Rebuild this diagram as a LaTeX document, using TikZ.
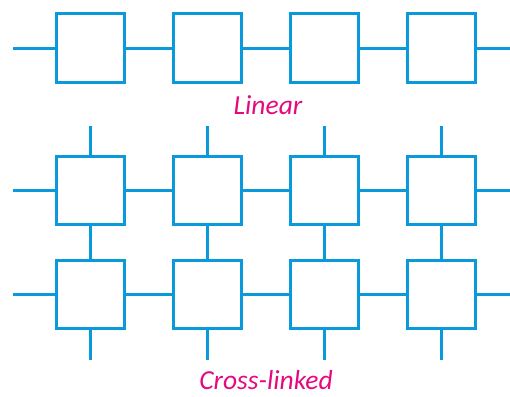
\documentclass[tikz,border=0pt]{standalone}
\usepackage{fontspec}
\setmainfont{Carlito}
\definecolor{linkblue}{HTML}{0A9ADB}
\definecolor{labelpink}{HTML}{E5097F}
\begin{document}
\begin{tikzpicture}[x=1pt,y=-1pt,
  unit/.style={draw=linkblue,line width=3pt,minimum size=68pt,inner sep=0pt,fill=white},
  link/.style={draw=linkblue,line width=3pt},
  caption/.style={text=labelpink,inner sep=0pt,text depth=0pt,font=\fontsize{27.5}{30}\selectfont\itshape}]
\useasboundingbox (0,0) rectangle (510,396);
\foreach \i/\x in {1/90.5,2/207.5,3/324.5,4/441.5}{
  \node[unit] (a\i) at (\x,48) {};
  \node[unit] (b\i) at (\x,190.5) {};
  \node[unit] (c\i) at (\x,294) {};
  \coordinate (bt\i) at (\x,126);
  \coordinate (cb\i) at (\x,360);
}
\coordinate (aL) at (13,48); \coordinate (aR) at (510,48);
\coordinate (bL) at (13,190.5); \coordinate (bR) at (510,190.5);
\coordinate (cL) at (13,294); \coordinate (cR) at (510,294);
\foreach \r in {a,b,c}{
  \draw[link] (\r L) -- (\r1.west);
  \draw[link] (\r1.east) -- (\r2.west);
  \draw[link] (\r2.east) -- (\r3.west);
  \draw[link] (\r3.east) -- (\r4.west);
  \draw[link] (\r4.east) -- (\r R);
}
\foreach \i in {1,2,3,4}{
  \draw[link] (bt\i) -- (b\i.north);
  \draw[link] (b\i.south) -- (c\i.north);
  \draw[link] (c\i.south) -- (cb\i);
}
\node[caption,anchor=base] (lin) at (268,114) {Linear};
\node[caption,anchor=base] (cross) at (266,389) {Cross-linked};
\end{tikzpicture}
\end{document}
